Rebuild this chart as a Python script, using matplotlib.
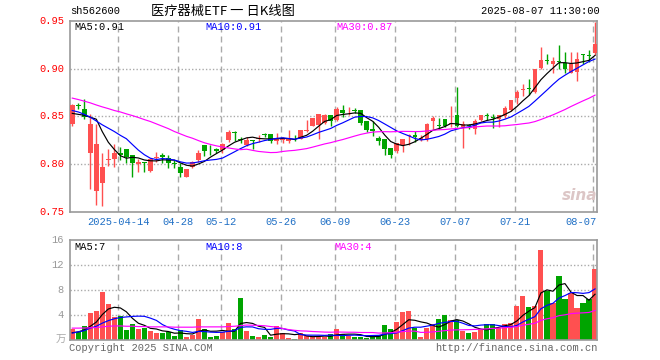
import numpy as np
import pandas as pd
import matplotlib
matplotlib.use('Agg')
import matplotlib.pyplot as plt

plt.rcParams['font.family'] = ['Liberation Mono', 'DejaVu Sans Mono']

# daily OHLC, 2025-04-01 .. 2025-08-07 (88 trading days)
open_ = [0.842, 0.8612, 0.858, 0.812, 0.772, 0.780, 0.8045, 0.8053, 0.8115, 0.8159,
         0.8095, 0.8005, 0.8025, 0.793, 0.8068, 0.809, 0.8066, 0.8014, 0.7966, 0.7868,
         0.7966, 0.8042, 0.8198, 0.8139, 0.8156, 0.8146, 0.825, 0.8336, 0.8253, 0.8198,
         0.8252, 0.8264, 0.8312, 0.8313, 0.8243, 0.825, 0.8243, 0.8264, 0.8267, 0.8347,
         0.8403, 0.841, 0.8431, 0.851, 0.846, 0.8567, 0.855, 0.856, 0.8567, 0.8446,
         0.837, 0.8273, 0.8266, 0.8163, 0.8135, 0.8204, 0.8291, 0.8308, 0.8256, 0.8258,
         0.8448, 0.840, 0.8473, 0.8414, 0.8514, 0.8389, 0.8404, 0.8362, 0.8459, 0.8504,
         0.8486, 0.8466, 0.850, 0.8563, 0.8688, 0.8778, 0.8788, 0.8757, 0.901, 0.9078,
         0.9052, 0.907, 0.9059, 0.8955, 0.8965, 0.9146, 0.9139, 0.9163]
high = [0.863, 0.864, 0.868, 0.852, 0.842, 0.811, 0.8155, 0.8211, 0.8176, 0.816,
        0.8095, 0.805, 0.8025, 0.806, 0.8123, 0.8111, 0.809, 0.804, 0.8014, 0.7948,
        0.8035, 0.8146, 0.8198, 0.8198, 0.8163, 0.8215, 0.8354, 0.8347, 0.8278, 0.8278,
        0.8252, 0.8302, 0.8326, 0.8313, 0.832, 0.8278, 0.8354, 0.8302, 0.8361, 0.8465,
        0.848, 0.852, 0.8528, 0.851, 0.860, 0.862, 0.860, 0.8585, 0.8567, 0.8446,
        0.8446, 0.8291, 0.8266, 0.8163, 0.8222, 0.8266, 0.8318, 0.8343, 0.8308, 0.843,
        0.850, 0.8483, 0.8473, 0.8611, 0.8806, 0.8448, 0.8414, 0.8473, 0.8518, 0.8535,
        0.8528, 0.8514, 0.8611, 0.8674, 0.877, 0.8837, 0.8889, 0.900, 0.9226, 0.9156,
        0.9121, 0.9243, 0.9174, 0.9174, 0.9174, 0.9156, 0.919, 0.9486]
low = [0.840, 0.858, 0.847, 0.774, 0.757, 0.756, 0.798, 0.7972, 0.8042, 0.8007,
       0.7866, 0.7919, 0.7919, 0.7919, 0.8025, 0.8014, 0.7962, 0.7955, 0.7861, 0.7861,
       0.7959, 0.8025, 0.8084, 0.809, 0.8111, 0.8111, 0.8233, 0.8243, 0.8215, 0.819,
       0.8153, 0.8233, 0.8285, 0.8222, 0.8208, 0.8222, 0.8222, 0.8243, 0.826, 0.834,
       0.8396, 0.8267, 0.8417, 0.8396, 0.845, 0.849, 0.8516, 0.8533, 0.8412, 0.8332,
       0.8298, 0.8204, 0.809, 0.8066, 0.8118, 0.8128, 0.8204, 0.8228, 0.8239, 0.8239,
       0.8362, 0.8362, 0.839, 0.839, 0.839, 0.817, 0.8362, 0.831, 0.8448, 0.8459,
       0.8379, 0.839, 0.8483, 0.8552, 0.8625, 0.8712, 0.8722, 0.8743, 0.900, 0.9042,
       0.8948, 0.900, 0.8955, 0.8948, 0.8872, 0.9052, 0.9069, 0.9139]
close = [0.862, 0.8605, 0.849, 0.842, 0.821, 0.7965, 0.8052, 0.8113, 0.8095, 0.8078,
         0.8014, 0.8016, 0.8007, 0.8053, 0.8072, 0.807, 0.8007, 0.800, 0.791, 0.7948,
         0.8025, 0.8118, 0.8136, 0.8132, 0.8136, 0.8208, 0.8333, 0.8328, 0.8248, 0.825,
         0.8246, 0.8267, 0.8306, 0.8243, 0.8257, 0.8267, 0.8257, 0.8258, 0.8361, 0.836,
         0.8479, 0.852, 0.851, 0.8451, 0.858, 0.8533, 0.8556, 0.8555, 0.8429, 0.8353,
         0.8343, 0.8239, 0.8152, 0.809, 0.8215, 0.8266, 0.8308, 0.8284, 0.8273, 0.8414,
         0.8483, 0.8396, 0.8396, 0.8431, 0.8396, 0.842, 0.840, 0.8448, 0.8511, 0.850,
         0.8483, 0.8514, 0.8587, 0.8667, 0.8757, 0.8785, 0.8785, 0.900, 0.9087, 0.9076,
         0.9076, 0.9066, 0.900, 0.9045, 0.9104, 0.9142, 0.9135, 0.926]
volume = [1.7, 1.33, 2.24, 4.37, 4.69, 7.73, 5.76, 3.63, 3.84, 1.6,
          2.56, 1.76, 1.97, 1.44, 1.07, 1.07, 1.23, 0.64, 1.6, 0.53,
          0.8, 3.36, 1.76, 0.53, 0.64, 1.33, 2.72, 1.76, 6.72, 1.44,
          0.64, 0.48, 0.8, 0.48, 2.24, 1.07, 0.32, 0.16, 1.07, 0.64,
          0.48, 0.48, 0.48, 0.9, 1.76, 0.9, 0.64, 0.48, 0.48, 0.32,
          0.75, 0.75, 2.4, 1.76, 2.88, 4.53, 4.64, 1.97, 0.48, 1.97,
          2.56, 3.36, 4.0, 3.2, 3.2, 1.44, 1.07, 1.28, 1.76, 2.56,
          2.56, 1.97, 2.56, 2.72, 5.44, 7.04, 5.33, 5.44, 14.4, 7.89,
          5.97, 10.3, 6.56, 7.57, 5.17, 5.97, 6.56, 11.36]

# moving-average values before enough history exists
ma5_head = [0.853, 0.852, 0.851, 0.849]
ma10_head = [0.856, 0.8545, 0.852, 0.849, 0.845, 0.841, 0.8375, 0.834, 0.830]
ma30_head = [0.869, 0.8675, 0.8658, 0.864, 0.8618, 0.8598, 0.858, 0.856, 0.8545, 0.8525,
             0.8507, 0.8487, 0.8465, 0.8445, 0.842, 0.8395, 0.837, 0.834, 0.8315, 0.829,
             0.827, 0.8245, 0.8222, 0.8205, 0.819, 0.8178, 0.8168, 0.8158, 0.815]
vma5_head = [1.17, 1.3, 1.6, 2.2]
vma10_head = [1.1, 1.3, 1.5, 1.9, 2.2, 2.7, 3.1, 3.4, 3.6]
vma30_head = [1.9, 1.9, 1.92, 1.95, 2.0, 2.1, 2.2, 2.25, 2.25, 2.2,
              2.2, 2.15, 2.15, 2.1, 2.1, 2.1, 2.1, 2.05, 2.05, 2.05,
              2.05, 2.1, 2.1, 2.1, 2.1, 2.1, 2.15, 2.2, 2.3]

tick_idx = [8, 18, 25, 35, 44, 54, 64, 74, 87]
tick_labels = ['2025-04-14', '04-28', '05-12', '05-26', '06-09', '06-23',
               '07-07', '07-21', '08-07']
price_ticks = [0.75, 0.80, 0.85, 0.90, 0.95]
vol_ticks = [4, 8, 12, 16]


def moving_avg(values, n, head):
    ma = pd.Series(values).rolling(n).mean().to_numpy()
    ma[:len(head)] = head
    return ma


RED = '#ff5050'
GREEN = '#00a400'
GRID = '#aaaaaa'
FRAME = '#999999'
LW = 0.85

o = np.array(open_)
h = np.array(high)
l = np.array(low)
c = np.array(close)
v = np.array(volume)
x = np.arange(len(c))
colors = np.where(c >= o, RED, GREEN)

ma5 = moving_avg(close, 5, ma5_head)
ma10 = moving_avg(close, 10, ma10_head)
ma30 = moving_avg(close, 30, ma30_head)
vma5 = moving_avg(volume, 5, vma5_head)
vma10 = moving_avg(volume, 10, vma10_head)
vma30 = moving_avg(volume, 30, vma30_head)

W, H = 660, 360
def box(left, top, right, bottom):
    return [left / W, 1 - bottom / H, (right - left) / W, (bottom - top) / H]

def ftext(px, py, s, **kw):
    fig.text(px / W, 1 - py / H, s, **kw)

fig = plt.figure(figsize=(6.6, 3.6), dpi=100)
ax = fig.add_axes(box(70.3, 20.75, 597, 211.75))
axv = fig.add_axes(box(70.3, 240, 597, 340))

for a in (ax, axv):
    a.set_xlim(-0.33, 87.33)
    for s in a.spines.values():
        s.set_color(FRAME)
        s.set_linewidth(1.2)
    a.set_xticks([])
    a.set_yticks([])
    for t in tick_idx:
        a.axvline(t - 0.33, color=GRID, lw=1, ls=(0, (4.3, 2.9)), zorder=0)

ax.set_ylim(0.75, 0.95)
axv.set_ylim(0, 16)
for yv in price_ticks[1:-1]:
    ax.axhline(yv, color=GRID, lw=1, ls=(0, (1, 1.5)), zorder=0)
for yv in vol_ticks[:-1]:
    axv.axhline(yv, color=GRID, lw=1, ls=(0, (1, 1.5)), zorder=0)

# candles
ax.vlines(x, l, h, colors=colors, lw=1, zorder=2)
ax.bar(x, np.maximum(np.abs(c - o), 0.0009), bottom=np.minimum(o, c),
       width=0.75, color=colors, linewidth=0, zorder=3)
ax.plot(x, ma5, color='black', lw=LW, zorder=4)
ax.plot(x, ma10, color='#0000ff', lw=LW, zorder=4)
ax.plot(x, ma30, color='#ff00ff', lw=LW, zorder=4)

# volume
axv.bar(x, v, width=0.85, color=colors, linewidth=0, zorder=2)
axv.plot(x, vma5, color='black', lw=LW, zorder=4)
axv.plot(x, vma10, color='#0000ff', lw=LW, zorder=4)
axv.plot(x, vma30, color='#ff00ff', lw=LW, zorder=4)

# price / volume axis labels
for yv in price_ticks:
    ax.text(-0.012, yv, f'{yv:.2f}', transform=ax.get_yaxis_transform(),
            ha='right', va='center', color='#ff0000', fontsize=7.5)
for yv in vol_ticks:
    axv.text(-0.012, yv, f'{yv}', transform=axv.get_yaxis_transform(),
             ha='right', va='center', color='#999999', fontsize=7.5)

# date labels
for i, (t, lab) in enumerate(zip(tick_idx, tick_labels)):
    last = i == len(tick_idx) - 1
    ax.text(87.33 if last else t - 0.33, 0.744, lab, ha='right' if last else 'center',
            va='top', color='#1f6fc5', fontsize=7.5)

# header
ftext(70, 11, 'sh562600', ha='left', va='center', fontsize=7.5)
ftext(151, 11, '医疗器械ETF 一 日K线图', ha='left', va='center', fontsize=9.5,
      family=['Noto Sans CJK SC', 'DejaVu Sans'])
ftext(600, 11, '2025-08-07 11:30:00', ha='right', va='center', fontsize=7.5)

ftext(74, 27, f'MA5:{ma5[-1]:.2f}', ha='left', va='center', fontsize=7.5)
ftext(205, 27, f'MA10:{ma10[-1]:.2f}', ha='left', va='center', fontsize=7.5, color='#0000ff')
ftext(336, 27, f'MA30:{ma30[-1]:.2f}', ha='left', va='center', fontsize=7.5, color='#ff00ff')
ftext(74, 247, f'MA5:{int(vma5[-1])}', ha='left', va='center', fontsize=7.5)
ftext(205, 247, f'MA10:{int(vma10[-1])}', ha='left', va='center', fontsize=7.5, color='#0000ff')
ftext(334, 247, f'MA30:{int(vma30[-1])}', ha='left', va='center', fontsize=7.5, color='#ff00ff')

ftext(66, 340, '万', ha='right', va='center', fontsize=7.5, color='#aaaaaa',
      family=['Noto Sans CJK SC', 'DejaVu Sans'])
ftext(69, 348, 'Copyright 2025 SINA.COM', ha='left', va='center', fontsize=7.5, color='#666666')
ftext(598, 348, 'http://finance.sina.com.cn', ha='right', va='center', fontsize=7.5,
      color='#666666')
ftext(580, 195, 'sina', ha='center', va='center', fontsize=11, color='#dcc6c6',
      family='DejaVu Sans', style='italic', weight='bold')

fig.savefig('out.png', dpi=100)
